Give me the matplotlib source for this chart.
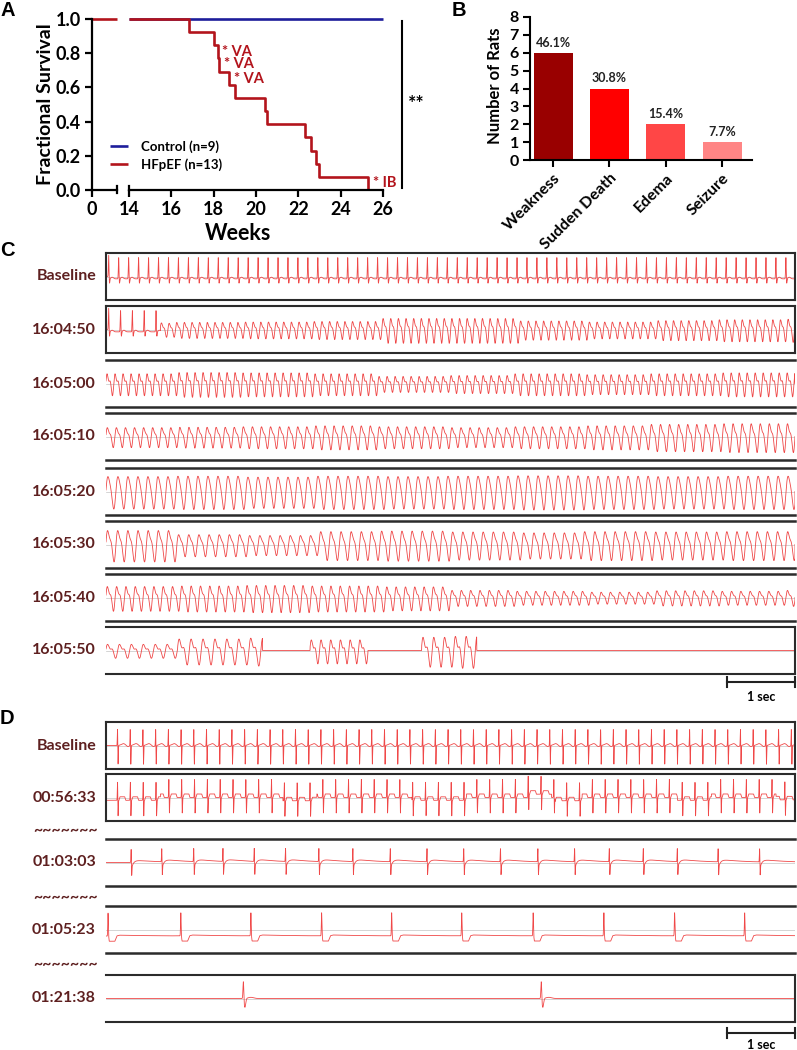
import numpy as np
import matplotlib
matplotlib.use("Agg")
import matplotlib.pyplot as plt
from matplotlib.lines import Line2D
from matplotlib import transforms

plt.rcParams['font.family'] = ['Lato', 'DejaVu Sans']
plt.rcParams['font.weight'] = 'bold'
plt.rcParams['axes.labelweight'] = 'bold'

# ---------------- data ----------------
# Panel A: Kaplan-Meier survival
control_weeks = [14, 26]
control_surv = [1.0, 1.0]
hfpef_n = 13
hfpef_event_weeks = [16.85, 18.0, 18.19, 18.27, 18.71, 19.03, 20.42, 20.53,
                     22.30, 22.58, 22.82, 22.98, 25.27]
annot_text = ['* VA', '* VA', '* VA', '* IB']
annot_x = [18.40, 18.51, 18.95, 25.51]
annot_y = [0.805, 0.735, 0.649, 0.043]
week_ticks = [14, 16, 18, 20, 22, 24, 26]
surv_ticks = [0.0, 0.2, 0.4, 0.6, 0.8, 1.0]

# Panel B: causes of death
causes = ['Weakness', 'Sudden Death', 'Edema', 'Seizure']
cause_counts = [6, 4, 2, 1]
cause_pcts = ['46.1%', '30.8%', '15.4%', '7.7%']

# Panel C: ECG strips (time stamps, rhythm segments: kind, start s, end s, rate Hz)
C_labels = ['Baseline', '16:04:50', '16:05:00', '16:05:10', '16:05:20',
            '16:05:30', '16:05:40', '16:05:50']
C_segments = [
    [('sinus', 0.04, 10.13, 6.83)],
    [('sinus', 0.04, 0.80, 5.75), ('vt', 0.80, 10.13, 8.9)],
    [('vt', 0.0, 10.13, 8.5)],
    [('vt', 0.0, 10.13, 7.5)],
    [('vt', 0.0, 10.13, 6.8)],
    [('vt', 0.0, 10.13, 6.7)],
    [('vt', 0.0, 10.13, 7.3)],
    [('vt', 0.0, 2.30, 5.7), ('flat', 2.30, 3.00, 0), ('vt', 3.00, 3.85, 7.0),
     ('flat', 3.85, 4.64, 0), ('vt', 4.64, 5.45, 6.3), ('flat', 5.45, 10.13, 0)],
]
# amplitude of the ventricular oscillation in each second of the strip
C_amps = [
    [0.0] * 11,
    [0.35, 0.40, 0.42, 0.45, 0.62, 0.62, 0.48, 0.42, 0.50, 0.55, 0.58],
    [0.55, 0.62, 0.60, 0.55, 0.40, 0.45, 0.55, 0.50, 0.55, 0.60, 0.60],
    [0.50, 0.52, 0.55, 0.60, 0.55, 0.50, 0.55, 0.60, 0.68, 0.72, 0.72],
    [0.78, 0.80, 0.75, 0.80, 0.78, 0.80, 0.82, 0.80, 0.78, 0.80, 0.80],
    [0.78, 0.55, 0.50, 0.72, 0.75, 0.70, 0.65, 0.72, 0.70, 0.72, 0.72],
    [0.62, 0.65, 0.68, 0.65, 0.60, 0.40, 0.35, 0.30, 0.38, 0.35, 0.40],
    [0.35, 0.65, 0.70, 0.60, 0.75, 0.80, 0.0, 0.0, 0.0, 0.0, 0.0],
]
# second harmonic weight per strip (irregular morphology)
C_harm = [0.0, 0.30, 0.35, 0.28, 0.15, 0.25, 0.30, 0.35]

# Panel D: ECG strips
D_labels = ['Baseline', '00:56:33', '01:03:03', '01:05:23', '01:21:38']
D_rate = [5.35, 5.30]          # Hz for the two fast strips
D_first = [0.17, 0.17]         # s, first beat
D_wander = [(0.0, 0.8, -0.12), (2.6, 3.1, -0.14), (4.5, 5.3, -0.12),
            (6.2, 6.55, 0.14), (6.6, 7.0, -0.14), (8.4, 8.9, -0.12), (9.85, 10.13, -0.1)]
D_beats_3 = [0.37, 0.82, 1.29, 1.72, 2.18, 2.64, 3.13, 3.63, 4.18, 4.72, 5.26,
             5.80, 6.35, 6.89, 7.40, 7.90, 8.40, 9.00, 9.61]
D_beats_4 = [0.03, 1.10, 2.13, 3.17, 4.20, 5.23, 6.28, 7.32, 8.36, 9.39]
D_beats_5 = [2.02, 6.40]

STRIP_T = 10.13   # seconds shown per strip

# ---------------- layout helpers ----------------
W, H = 797, 1050
fig = plt.figure(figsize=(W / 100, H / 100), dpi=100)


def ax_px(x0, y0, x1, y1):
    return fig.add_axes([x0 / W, 1 - y1 / H, (x1 - x0) / W, (y1 - y0) / H])


def fx(x):
    return x / W


def fy(y):
    return 1 - y / H


RED = '#b3141c'
BLUE = '#1d1d9b'
LAB = '#5e2020'

# ---------------- Panel A ----------------
axL = ax_px(92, 19, 117, 190)
axR = ax_px(129, 19, 383, 190)
for ax in (axL, axR):
    ax.set_ylim(0, 1)
    ax.spines['top'].set_visible(False)
    ax.spines['right'].set_visible(False)
    ax.spines['bottom'].set_linewidth(1.6)
    ax.spines['left'].set_linewidth(1.6)
    ax.tick_params(direction='out', length=5, width=1.6, labelsize=13, pad=3)
axL.set_xlim(0, 1)
axR.set_xlim(14, 26)
axR.spines['left'].set_visible(False)
axR.set_yticks([])
axL.set_xticks([0])
axL.set_xticklabels(['0'])
axR.set_xticks(week_ticks)
axR.set_xticklabels([str(w) for w in week_ticks])
axL.set_yticks(surv_ticks)
axL.set_yticklabels([f'{v:.1f}' for v in surv_ticks])

# break marks
axL.plot([1, 1], [-0.02, 0.025], color='k', lw=1.6, clip_on=False)
axR.plot([14, 14], [0.0, 0.025], color='k', lw=1.6, clip_on=False)

lc, = axR.plot(control_weeks, control_surv, color=BLUE, lw=1.9, clip_on=False,
               solid_capstyle='butt')
axL.plot([0, 1], [1, 1], color=RED, lw=1.9, clip_on=False, solid_capstyle='butt')
xs, ys = [14], [1.0]
level = 1.0
for i, wk in enumerate(hfpef_event_weeks):
    new = (hfpef_n - i - 1) / hfpef_n
    xs += [wk, wk]
    ys += [level, new]
    level = new
lh, = axR.plot(xs, ys, color=RED, lw=1.9, clip_on=False, solid_capstyle='butt')

for tx, xx, yy in zip(annot_text, annot_x, annot_y):
    axR.text(xx, yy, tx, color=RED, fontsize=10.5, ha='left', va='center')

axR.legend([lc, lh], ['Control (n=9)', 'HFpEF (n=13)'], loc='upper left',
           bbox_to_anchor=(fx(110), fy(140)), bbox_transform=fig.transFigure,
           frameon=False, fontsize=9.5, handlelength=1.4, handletextpad=0.95,
           labelspacing=0.42, borderpad=0, borderaxespad=0)

fig.add_artist(Line2D([fx(402), fx(402)], [fy(21), fy(188)], color='k', lw=1.5))
fig.text(fx(408), fy(104), '**', fontsize=14, ha='left', va='center')
fig.text(fx(46), fy(104), 'Fractional Survival', rotation=90, fontsize=14,
         ha='center', va='center')
fig.text(fx(238), fy(234), 'Weeks', fontsize=15.5, ha='center', va='center')

# ---------------- Panel B ----------------
axB = ax_px(530, 17, 752, 160)
bar_colors = ['#990000', '#ff0000', '#ff4646', '#ff8585']
bars = axB.bar(range(len(causes)), cause_counts, width=0.69, color=bar_colors)
axB.bar_label(bars, labels=cause_pcts, padding=3, fontsize=9, color='#222222')
axB.set_xlim(-0.41, 3.53)
axB.set_ylim(0, 8)
axB.set_yticks(range(9))
axB.set_xticks(range(len(causes)))
axB.set_xticklabels(causes, rotation=45, ha='right', va='top', rotation_mode='anchor')
axB.spines['top'].set_visible(False)
axB.spines['right'].set_visible(False)
for s in ('left', 'bottom'):
    axB.spines[s].set_linewidth(1.5)
axB.tick_params(direction='out', length=5, width=1.5, labelsize=11.5, pad=3)
fig.text(fx(495), fy(86), 'Number of Rats', rotation=90, fontsize=12,
         ha='center', va='center')

# panel letters
for letter, (x, y) in zip('ABCD', [(8, 11), (459, 10), (7, 250), (7, 718)]):
    fig.text(fx(x), fy(y), letter, fontsize=14.5, ha='center', va='center',
             family='Liberation Sans', fontweight='bold')

# ---------------- ECG builders ----------------
tt = np.linspace(0, STRIP_T, 14000)


def g(t, mu, s, a):
    return a * np.exp(-0.5 * ((t - mu) / s) ** 2)


def beats_from_rate(start, end, rate):
    return np.arange(start, end, 1.0 / rate)


def strip_C(segs, amps, harm):
    y = np.zeros_like(tt)
    for kind, a, b, rate in segs:
        m = (tt >= a) & (tt < b)
        if kind == 'sinus':
            for bt in beats_from_rate(a, b, rate):
                dt = tt - bt
                y += g(dt, 0, 0.0045, 0.92) + g(dt, 0.011, 0.005, -0.22) + g(dt, 0.05, 0.018, 0.07)
            y[m] -= 0.1
        elif kind == 'vt':
            ph = rate * (tt[m] - a)
            k = np.floor(ph)
            tk = a + k / rate
            A = np.array(amps)[np.minimum(tk.astype(int), len(amps) - 1)]
            u = ph - k
            wave = (1 - harm) * np.sin(2 * np.pi * u) + harm * np.sin(4 * np.pi * u + 0.6)
            y[m] += A * wave
    return y


def strip_D(idx):
    y = np.zeros_like(tt)
    if idx in (0, 1):
        for bt in beats_from_rate(D_first[idx], STRIP_T, D_rate[idx]):
            dt = tt - bt
            if idx == 0:
                y += g(dt, 0, 0.0035, 0.78) + g(dt, 0.007, 0.0035, -0.88)
                y += g(dt, 0.085, 0.03, 0.08) + g(dt, 0.15, 0.02, -0.05)
            else:
                y += g(dt, 0, 0.0035, 0.85) + g(dt, 0.007, 0.0035, -0.75)
                y += 0.15 * (np.clip((dt - 0.02) / 0.015, 0, 1) * np.clip((0.12 - dt) / 0.015, 0, 1))
        if idx == 1:
            for a, b, off in D_wander:
                y[(tt >= a) & (tt < b)] += off
    elif idx == 2:
        for bt in D_beats_3:
            dt = tt - bt
            y += g(dt, 0, 0.0035, 0.6) + g(dt, 0.007, 0.0035, -0.38)
            p = dt > 0.006
            y[p] += (-0.25 * np.exp(-(dt[p] - 0.006) / 0.03)
                     + 0.12 * (1 - np.exp(-(dt[p] - 0.006) / 0.03)) * np.exp(-(dt[p]) / 0.35))
    elif idx == 3:
        y -= 0.28
        for bt in D_beats_4:
            dt = tt - bt
            y += g(dt, 0, 0.004, 0.98)
            y += -0.22 * np.clip((dt - 0.008) / 0.01, 0, 1) * np.clip((0.13 - dt) / 0.03, 0, 1)
            y += 0.05 * np.clip((dt - 0.12) / 0.05, 0, 1) * np.exp(-np.clip(dt, 0, None) / 0.6)
    else:
        for bt in D_beats_5:
            dt = tt - bt
            y += g(dt, 0, 0.006, 0.78) + g(dt, 0.022, 0.012, -0.38) + g(dt, 0.11, 0.04, 0.05)
    return y


def make_strip(top, label, y, boxed, right_only=False, trace_color='#ef4747', lw=0.6):
    ax = ax_px(106, top, 795, top + 47)
    ax.set_xlim(0, STRIP_T)
    ax.set_ylim(-1, 1)
    ax.set_xticks([])
    ax.set_yticks([])
    ax.axhline(0, color='#c4c4c4', lw=0.5, zorder=1)
    ax.plot(tt, y, color=trace_color, lw=lw, zorder=2)
    for s in ax.spines.values():
        s.set_color('#2b2b2b')
        s.set_linewidth(1.5)
    if not boxed:
        ax.spines['left'].set_visible(False)
        ax.spines['right'].set_visible(False)
        ax.spines['top'].set_linewidth(1.8)
        ax.spines['bottom'].set_linewidth(1.8)
    if right_only:
        ax.spines['left'].set_visible(False)
    fig.text(fx(96), fy(top + 23.5), label, fontsize=11.5, color=LAB, ha='right', va='center')
    return ax


def scale_bar(ax, ypix, ytext):
    tr = transforms.blended_transform_factory(ax.transData, fig.transFigure)
    x0, x1 = STRIP_T - 1.0, STRIP_T
    ax.plot([x0, x1], [fy(ypix), fy(ypix)], color='#222222', lw=1.5, transform=tr, clip_on=False)
    for xx in (x0, x1):
        ax.plot([xx, xx], [fy(ypix - 5), fy(ypix + 5)], color='#222222', lw=1.5,
                transform=tr, clip_on=False)
    ax.text((x0 + x1) / 2, fy(ytext), '1 sec', transform=tr, fontsize=9,
            ha='center', va='center')


# ---------------- Panel C ----------------
C_tops = [253, 306, 360, 413, 468, 521, 574, 627]
C_boxed = [True, True, False, False, False, False, False, True]
last = None
for i, lab in enumerate(C_labels):
    y = strip_C(C_segments[i], C_amps[i], C_harm[i])
    last = make_strip(C_tops[i], lab, y, C_boxed[i], right_only=(i == len(C_labels) - 1))
scale_bar(last, 682, 697)

# ---------------- Panel D ----------------
D_tops = [722, 774, 839, 906, 975]
D_boxed = [True, True, False, False, True]
for i, lab in enumerate(D_labels):
    y = strip_D(i)
    last = make_strip(D_tops[i], lab, y, D_boxed[i], right_only=(i == len(D_labels) - 1),
                      trace_color='#f04848', lw=0.6)
scale_bar(last, 1033, 1045)
for ty in (831, 898, 965):
    fig.text(fx(33), fy(ty), '~~~~~~~', fontsize=11.5, color=LAB, ha='left', va='center')

fig.savefig('out.png', dpi=100)
